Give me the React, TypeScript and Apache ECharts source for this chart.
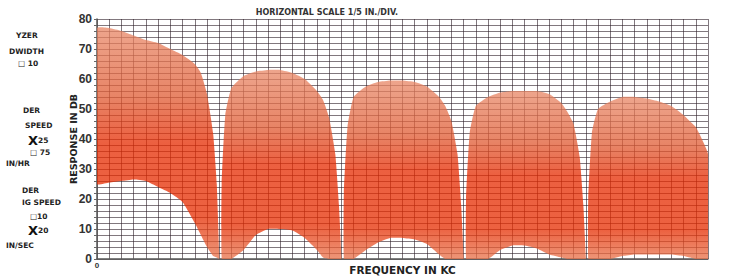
import React, { useEffect, useRef } from "react";
import * as echarts from "echarts";

// Frequency in horizontal divisions (1/5 in per div); response envelope in dB
const freqDiv = [
  0, 1, 2, 3, 4, 5, 6, 7, 8, 8.5, 9, 9.5, 9.8, 10,
  10.2, 10.5, 11, 12, 13, 14, 15, 16, 17, 18, 18.5, 19, 19.5, 19.8, 20,
  20.2, 20.5, 21, 22, 23, 24, 25, 26, 27, 28, 28.5, 29, 29.5, 29.8, 30,
  30.2, 30.5, 31, 32, 33, 34, 35, 36, 37, 38, 38.5, 39, 39.5, 39.8, 40,
  40.2, 40.5, 41, 42, 43, 44, 45, 46, 47, 48, 48.5, 49, 49.5, 50,
];
const respUpper = [
  77, 77, 76, 74.5, 73, 72, 70, 68, 65, 62, 55, 42, 25, 2,
  25, 48, 57, 61, 62.5, 63, 63, 62, 60, 56, 53, 47, 35, 18, 1,
  22, 44, 54, 57.5, 59, 59.5, 59.5, 59, 57.5, 54, 51, 46, 35, 18, 1,
  20, 42, 51, 54, 55.5, 56, 56, 56, 55, 52, 49, 45, 34, 18, 1,
  20, 42, 50, 52.5, 54, 54, 53.5, 52.5, 51, 48, 46, 44, 40, 35,
];
const respLower = [
  25, 25.5, 26, 26.5, 26, 24, 22, 19, 12, 8, 4, 1, 0.5, 0,
  0, 0, 0, 3, 8, 10, 10, 9.5, 7, 3, 0.5, 0, 0, 0, 0,
  0, 0, 0, 3, 5.5, 7, 7, 6.5, 5, 1.5, 0, 0, 0, 0, 0,
  0, 0, 0, 0, 3, 4.5, 4.5, 3.5, 1.5, 0.5, 0, 0, 0, 0, 0,
  0, 0, 0, 0, 1, 1.5, 1.5, 1.5, 1.5, 1, 0.5, 0, 0, 0,
];
// each lobe of the sweep: first and last division
const lobeStart = [0, 10.2, 20.2, 30.2, 40.2];
const lobeEnd = [10, 20, 30, 40, 50];
const yLabelValues = [0, 10, 20, 30, 40, 50, 60, 70, 80];
const X_MAX = 50;
const Y_MAX = 80;
const Y_STEP = 2;

const sideNotes = [
  { t: "YZER", x: 16, y: 35 },
  { t: "DWIDTH", x: 9, y: 51 },
  { t: "□ 10", x: 18, y: 63 },
  { t: "DER", x: 23, y: 110 },
  { t: "SPEED", x: 25, y: 125 },
  { t: "{x|X}25", x: 28, y: 140 },
  { t: "□ 75", x: 30, y: 152 },
  { t: "IN/HR", x: 6, y: 163 },
  { t: "DER", x: 22, y: 190 },
  { t: "IG SPEED", x: 22, y: 202 },
  { t: "□10", x: 30, y: 216 },
  { t: "{x|X}20", x: 28, y: 230 },
  { t: "IN/SEC", x: 6, y: 245 },
];

// semi-transparent ink so the chart paper's grid shows through the trace
const inkStops = [
  { offset: 0, color: "#e88766" },
  { offset: 0.3, color: "#e05b33" },
  { offset: 0.5, color: "#e62a00" },
  { offset: 0.82, color: "#e62c00" },
  { offset: 1, color: "#e8734b" },
];

export default function App() {
  const ref = useRef<HTMLDivElement>(null);
  useEffect(() => {
    if (!ref.current) return;
    const chart = echarts.init(ref.current, null, { renderer: "svg" });
    const traceSeries = {
      type: "custom",
      name: "response",
      silent: true,
      clip: true,
      data: lobeStart.map((s, i) => [s, i]),
      renderItem: (params: any, api: any) => {
        const i = params.dataIndex;
        const lo = lobeStart[i];
        const hi = lobeEnd[i];
        const top: number[][] = [];
        const bottom: number[][] = [];
        freqDiv.forEach((f, k) => {
          if (f >= lo && f <= hi) {
            top.push(api.coord([f, respUpper[k]]));
            bottom.push(api.coord([f, respLower[k]]));
          }
        });
        if (top.length < 2) return null;
        const points = top.concat(bottom.reverse());
        return {
          type: "polygon",
          shape: { points, smooth: 0.15 },
          style: {
            fill: new echarts.graphic.LinearGradient(0, 0, 0, 1, inkStops),
            opacity: 0.75,
          },
        };
      },
    };
    const gridLine = { show: true, lineStyle: { color: "rgba(45,30,40,0.6)", width: 1 } };
    chart.setOption({
      animation: false,
      backgroundColor: "#ffffff",
      grid: {
        left: 97,
        right: 34,
        top: 19,
        bottom: 18,
        containLabel: false,
        outerBoundsMode: "none",
      },
      xAxis: {
        type: "value",
        min: 0,
        max: X_MAX,
        interval: 1,
        name: "FREQUENCY IN KC",
        nameLocation: "middle",
        nameGap: 5,
        nameMoveOverlap: false,
        nameTextStyle: {
          fontFamily: "DejaVu Sans",
          fontWeight: "bold",
          fontSize: 10.5,
          color: "#222",
          verticalAlign: "top",
        },
        axisLine: { show: true, lineStyle: { color: "#555", width: 1.5 } },
        axisTick: { show: false },
        axisLabel: {
          show: true,
          formatter: (v: number) => (v === 0 ? "0" : ""),
          fontSize: 8,
          fontWeight: "bold",
          color: "#333",
          margin: 2,
        },
        splitLine: gridLine,
      },
      yAxis: {
        type: "value",
        min: 0,
        max: Y_MAX,
        interval: Y_STEP,
        name: "RESPONSE IN DB",
        nameLocation: "middle",
        nameRotate: 90,
        nameGap: 19,
        nameMoveOverlap: false,
        nameTextStyle: {
          fontFamily: "DejaVu Sans",
          fontWeight: "bold",
          fontSize: 9.5,
          color: "#222",
        },
        axisLine: { show: true, lineStyle: { color: "#555", width: 1.5 } },
        axisTick: { show: true, length: 3, lineStyle: { color: "#666" } },
        axisLabel: {
          formatter: (v: number) => (yLabelValues.includes(v) ? String(v) : ""),
          fontFamily: "Liberation Sans",
          fontWeight: "bold",
          fontSize: 12,
          color: "#333",
          margin: 5,
        },
        splitLine: gridLine,
      },
      graphic: [
        {
          type: "text",
          x: 327,
          y: 12,
          style: {
            text: "HORIZONTAL SCALE 1/5 IN./DIV.",
            fontFamily: "DejaVu Sans",
            fontWeight: "bold",
            fontSize: 8,
            fill: "#333",
            align: "center",
            verticalAlign: "middle",
          },
        },
        ...sideNotes.map((n) => ({
          type: "text",
          x: n.x,
          y: n.y,
          style: {
            text: n.t,
            fontFamily: "DejaVu Sans",
            fontWeight: "bold",
            fontSize: 7.5,
            fill: "#222",
            align: "left",
            verticalAlign: "middle",
            rich: {
              x: { fontSize: 13, fontWeight: "bold", fill: "#111", fontFamily: "DejaVu Sans" },
            },
          },
        })),
      ],
      series: [traceSeries],
    });
    return () => chart.dispose();
  }, []);
  return (
    <div
      ref={ref}
      style={{ position: "fixed", left: 0, top: 0, width: 742, height: 277 }}
    />
  );
}
